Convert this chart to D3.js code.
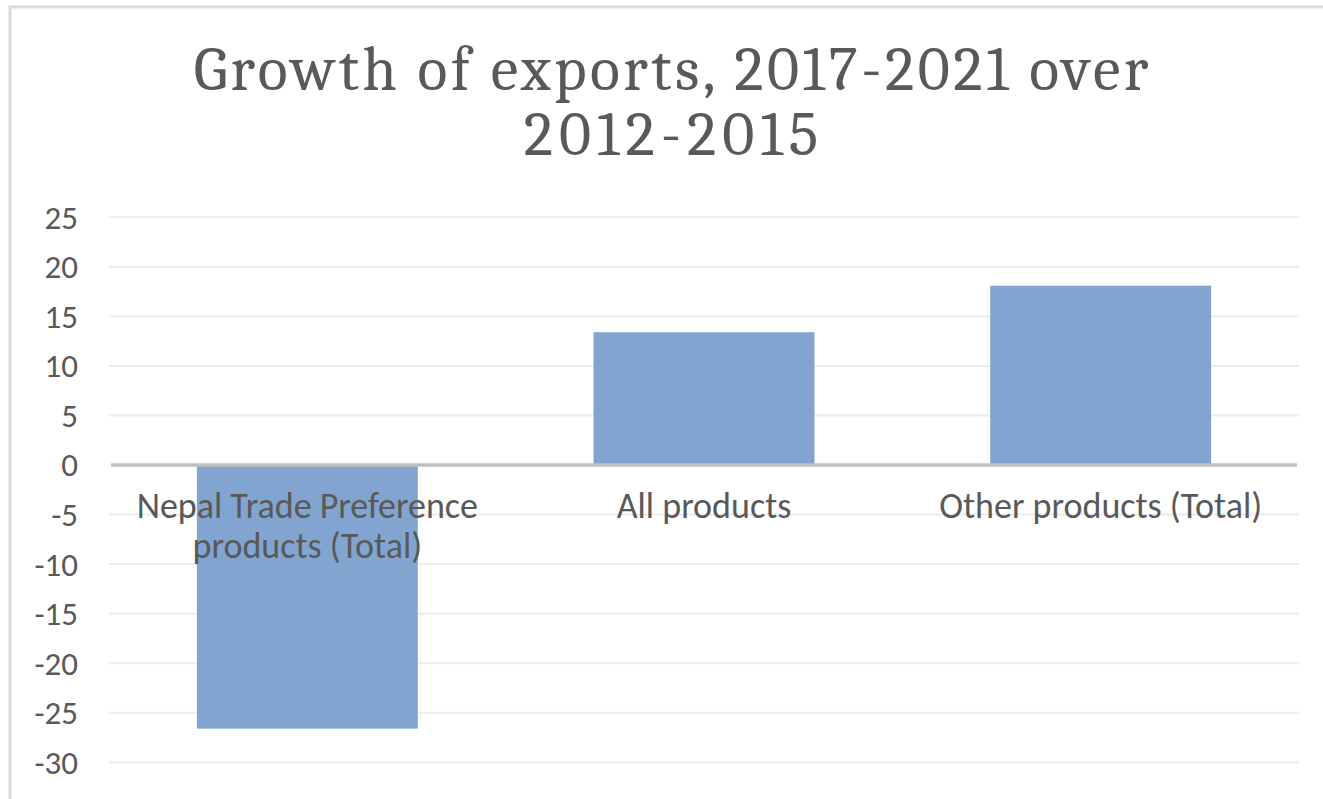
<!DOCTYPE html>
<html>
<head>
<meta charset="utf-8">
<script src="https://cdn.jsdelivr.net/npm/d3@7"></script>
<style>
  html, body { margin: 0; padding: 0; background: #ffffff; overflow: hidden; }
  svg { display: block; }
</style>
</head>
<body>
<svg id="chart" width="1323" height="799"></svg>
<script>
// Growth of exports, 2017-2021 over 2012-2015 (per cent)
const titleLines = ["Growth of exports, 2017-2021 over", "2012-2015"];
const categories = ["Nepal Trade Preference products (Total)", "All products", "Other products (Total)"];
const growth = [-26.6, 13.4, 18.1];
const yTicks = [25, 20, 15, 10, 5, 0, -5, -10, -15, -20, -25, -30];

const W = 1323, H = 799;
const textColor = "#595959";
const labelFont = "Carlito, Calibri, Lato, sans-serif";
const titleFont = "Caladea, Cambria, 'Liberation Serif', serif";

const svg = d3.select("#chart");

// outer chart frame
svg.append("rect")
  .attr("x", 10).attr("y", 7)
  .attr("width", W + 40).attr("height", H + 40)
  .attr("fill", "#ffffff")
  .attr("stroke", "#dcdcdc").attr("stroke-width", 3);

const plot = { left: 109, right: 1299, top: 217.3, bottom: 762.3 };

const x = d3.scaleBand()
  .domain(categories)
  .range([plot.left, plot.right])
  .paddingInner(0.443)
  .paddingOuter(0.443 / 2);

const y = d3.scaleLinear()
  .domain([d3.min(yTicks), d3.max(yTicks)])
  .range([plot.bottom, plot.top]);

// gridlines
svg.append("g")
  .selectAll("line")
  .data(yTicks.filter(d => d !== 0))
  .join("line")
  .attr("x1", plot.left).attr("x2", plot.right)
  .attr("y1", d => y(d)).attr("y2", d => y(d))
  .attr("stroke", "#ececec").attr("stroke-width", 2);

// y axis labels (no axis line), plain hyphen for negatives
const yAxis = d3.axisLeft(y).tickValues(yTicks).tickSize(0).tickPadding(0).tickFormat(d => String(d));
const yg = svg.append("g").attr("transform", "translate(78,0)").call(yAxis);
yg.select(".domain").remove();
yg.selectAll("text")
  .attr("fill", textColor)
  .attr("font-family", labelFont)
  .attr("font-size", 33)
  .attr("dy", "0.33em");

// bars
svg.append("g")
  .selectAll("rect")
  .data(categories)
  .join("rect")
  .attr("x", d => x(d))
  .attr("width", x.bandwidth())
  .attr("y", (d, i) => y(Math.max(0, growth[i])))
  .attr("height", (d, i) => Math.abs(y(growth[i]) - y(0)))
  .attr("fill", "#81a5d0");

// zero line
svg.append("line")
  .attr("x1", plot.left + 2).attr("x2", plot.right - 2)
  .attr("y1", y(0)).attr("y2", y(0))
  .attr("stroke", "#bfbfbf").attr("stroke-width", 3.5);

// category labels, wrapped to the band step
const catG = svg.append("g");
const maxW = x.step() * 0.92;
categories.forEach(c => {
  const cx = x(c) + x.bandwidth() / 2;
  const t = catG.append("text")
    .attr("x", cx)
    .attr("y", 518)
    .attr("text-anchor", "middle")
    .attr("fill", textColor)
    .attr("font-family", labelFont)
    .attr("font-size", 36);
  const words = c.split(" ");
  let lines = [], cur = [];
  words.forEach(wd => {
    t.text(cur.concat([wd]).join(" "));
    if (cur.length && t.node().getComputedTextLength() > maxW) {
      lines.push(cur.join(" "));
      cur = [wd];
    } else {
      cur.push(wd);
    }
  });
  lines.push(cur.join(" "));
  t.text(null);
  lines.forEach((ln, i) => {
    t.append("tspan")
      .attr("x", cx)
      .attr("y", 518 + i * 40)
      .text(ln);
  });
});

// title
const titleSpacing = [3.5, 6];
const titleBase = [90, 155];
const title = svg.append("g");
titleLines.forEach((ln, i) => {
  title.append("text")
    .attr("x", 671 + titleSpacing[i] / 2)
    .attr("y", titleBase[i])
    .attr("text-anchor", "middle")
    .attr("fill", textColor)
    .attr("font-family", titleFont)
    .attr("font-size", 62)
    .attr("letter-spacing", titleSpacing[i])
    .text(ln);
});
</script>
</body>
</html>
